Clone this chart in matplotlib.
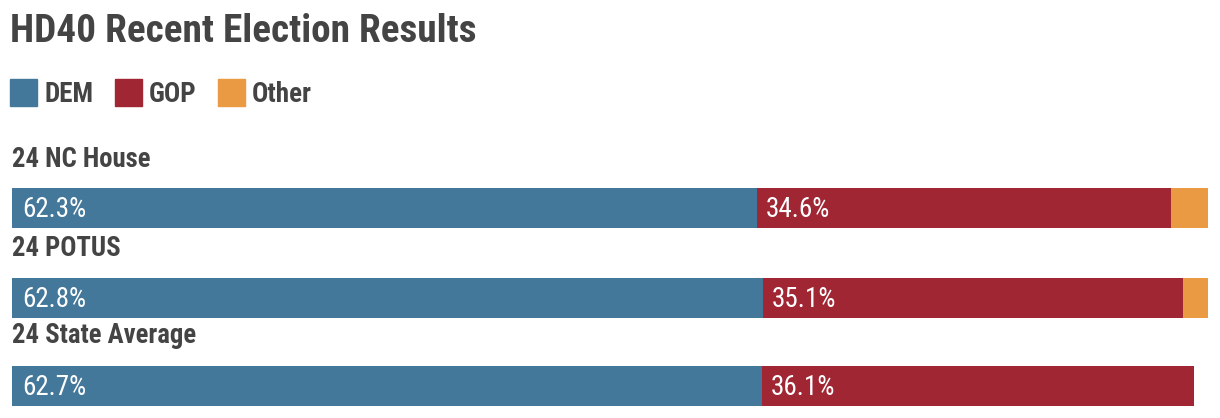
import matplotlib.pyplot as plt
from matplotlib.patches import Patch

races = ["24 NC House", "24 POTUS", "24 State Average"]
dem = [62.3, 62.8, 62.7]
gop = [34.6, 35.1, 36.1]
other = [3.1, 2.1, 0.0]

DEM_C = "#44789A"
GOP_C = "#A02634"
OTH_C = "#E99A42"
TXT_C = "#444444"

W, H = 1220, 418
FONT = ["Roboto Condensed", "DejaVu Sans"]
plt.rcParams["font.family"] = FONT

fig = plt.figure(figsize=(W / 100, H / 100), dpi=100)
ax = fig.add_axes([0, 0, 1, 1])
px = 11.96  # pixels per percent
left = 12
ax.set_xlim(-left / px, (W - left) / px)
ax.set_ylim(H, 0)
ax.axis("off")

centers = [208, 298, 386]
bh = 40
ax.barh(centers, dem, height=bh, color=DEM_C)
ax.barh(centers, gop, left=dem, height=bh, color=GOP_C)
lefts = [d + g for d, g in zip(dem, gop)]
ax.barh(centers, other, left=lefts, height=bh, color=OTH_C)

for i, c in enumerate(centers):
    ax.text(0, c - 41 - i, races[i], fontsize=19.3, fontweight="bold",
            color=TXT_C, va="baseline", ha="left")
    ax.text(10 / px, c + 9, f"{dem[i]}%", fontsize=19.5, color="white",
            va="baseline", ha="left")
    ax.text(dem[i] + 9 / px, c + 9, f"{gop[i]}%", fontsize=19.5, color="white",
            va="baseline", ha="left")

fig.text(10 / W, 1 - 42 / H, "HD40 Recent Election Results", fontsize=28.3,
         fontweight="bold", color=TXT_C, va="baseline", ha="left")

handles = [Patch(color=DEM_C, label="DEM"), Patch(color=GOP_C, label="GOP"),
           Patch(color=OTH_C, label="Other")]
leg = fig.legend(handles=handles, loc="upper left", bbox_to_anchor=(10 / W, 1 - 79 / H),
                 ncol=3, frameon=False, borderpad=0, borderaxespad=0,
                 handlelength=1.0, handleheight=1.15, handletextpad=0.27,
                 columnspacing=0.78, prop={"size": 19.5, "weight": "bold", "family": FONT})
for t in leg.get_texts():
    t.set_color(TXT_C)

fig.savefig("out.png", dpi=100)
